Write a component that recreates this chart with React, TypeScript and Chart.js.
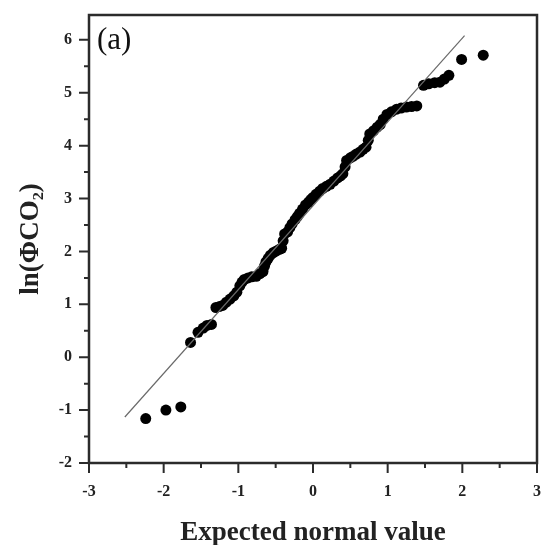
import React, { useEffect, useRef } from "react";
import { Chart, registerables } from "chart.js";

Chart.register(...registerables);

// Q-Q plot points (expected normal value, ln(ΦCO2))
const qqX = [
  -2.24, -1.97, -1.77, -1.64, -1.54, -1.47, -1.42, -1.36, -1.3, -1.25, -1.21, -1.16, -1.11,
  -1.06, -1.02, -0.98, -0.95, -0.92, -0.87, -0.82, -0.76, -0.71, -0.67, -0.65, -0.63, -0.6,
  -0.57, -0.53, -0.49, -0.45, -0.42, -0.4, -0.38, -0.34, -0.31, -0.28, -0.24, -0.21, -0.18,
  -0.14, -0.1, -0.06, -0.03, 0.0, 0.04, 0.09, 0.13, 0.18, 0.23, 0.28, 0.33, 0.37, 0.4, 0.43,
  0.45, 0.5, 0.54, 0.58, 0.63, 0.67, 0.71, 0.74, 0.76, 0.81, 0.86, 0.9, 0.94, 0.99, 1.05,
  1.12, 1.18, 1.25, 1.32, 1.39, 1.48, 1.55, 1.63, 1.7, 1.76, 1.82, 1.99, 2.28,
];
const qqY = [
  -1.16, -1.0, -0.94, 0.28, 0.47, 0.55, 0.6, 0.62, 0.94, 0.96, 0.98, 1.04, 1.1,
  1.16, 1.23, 1.35, 1.42, 1.47, 1.5, 1.52, 1.53, 1.58, 1.62, 1.72, 1.8, 1.87,
  1.93, 1.98, 2.01, 2.04, 2.06, 2.2, 2.33, 2.37, 2.45, 2.52, 2.6, 2.66, 2.72,
  2.8, 2.88, 2.93, 2.98, 3.02, 3.08, 3.14, 3.19, 3.23, 3.27, 3.33, 3.39, 3.43, 3.47, 3.6,
  3.72, 3.77, 3.8, 3.84, 3.88, 3.93, 3.97, 4.1, 4.22, 4.28, 4.35, 4.4, 4.5, 4.59, 4.64,
  4.69, 4.71, 4.73, 4.74, 4.75, 5.14, 5.17, 5.19, 5.2, 5.26, 5.33, 5.63, 5.71,
];

// Reference (normal) line end points
const fitX = [-2.52, 2.03];
const fitY = [-1.13, 6.08];

// Axis ticks
const xMajorTicks = [-3, -2, -1, 0, 1, 2, 3];
const yMajorTicks = [-2, -1, 0, 1, 2, 3, 4, 5, 6];
const xMinorTicks = [-2.5, -1.5, -0.5, 0.5, 1.5, 2.5];
const yMinorTicks = [-1.5, -0.5, 0.5, 1.5, 2.5, 3.5, 4.5, 5.5];

const xTitle = "Expected normal value";
const yTitle = "ln(ΦCO₂)";
const panelLabel = "(a)";

const AXIS_COLOR = "#2b2b2b";
const SERIF = "'Liberation Serif', 'Times New Roman', serif";

const framePlugin = {
  id: "frame",
  afterDraw(chart: any) {
    const { ctx, chartArea } = chart;
    const xs = chart.scales.x;
    const ys = chart.scales.y;
    ctx.save();
    ctx.strokeStyle = AXIS_COLOR;
    ctx.lineWidth = 2.5;
    ctx.strokeRect(chartArea.left, chartArea.top, chartArea.right - chartArea.left, chartArea.bottom - chartArea.top);
    ctx.lineWidth = 2;
    ctx.beginPath();
    for (const v of xMajorTicks) {
      const px = xs.getPixelForValue(v);
      ctx.moveTo(px, chartArea.bottom);
      ctx.lineTo(px, chartArea.bottom + 10);
    }
    for (const v of xMinorTicks) {
      const px = xs.getPixelForValue(v);
      ctx.moveTo(px, chartArea.bottom);
      ctx.lineTo(px, chartArea.bottom + 5);
    }
    for (const v of yMajorTicks) {
      const py = ys.getPixelForValue(v);
      ctx.moveTo(chartArea.left, py);
      ctx.lineTo(chartArea.left - 10, py);
    }
    for (const v of yMinorTicks) {
      const py = ys.getPixelForValue(v);
      ctx.moveTo(chartArea.left, py);
      ctx.lineTo(chartArea.left - 5, py);
    }
    ctx.stroke();
    ctx.fillStyle = "#111";
    ctx.font = `31px ${SERIF}`;
    ctx.textBaseline = "alphabetic";
    ctx.textAlign = "left";
    ctx.fillText(panelLabel, chartArea.left + 8, chartArea.top + 34);
    ctx.restore();
  },
};

export default function App() {
  const ref = useRef<HTMLCanvasElement | null>(null);
  useEffect(() => {
    if (!ref.current) return;
    const chart = new Chart(ref.current, {
      type: "scatter",
      data: {
        datasets: [
          {
            type: "line",
            data: fitX.map((x, i) => ({ x, y: fitY[i] })),
            borderColor: "#6a6a6a",
            borderWidth: 1.2,
            pointRadius: 0,
            fill: false,
          } as any,
          {
            type: "scatter",
            data: qqX.map((x, i) => ({ x, y: qqY[i] })),
            backgroundColor: "#000",
            borderColor: "#000",
            pointRadius: 5.5,
            pointBorderWidth: 0,
          },
        ],
      },
      options: {
        responsive: false,
        animation: false,
        layout: { padding: { top: 15, right: 9, left: 0, bottom: 0 } },
        plugins: { legend: { display: false }, tooltip: { enabled: false } },
        scales: {
          x: {
            type: "linear",
            min: -3,
            max: 3,
            grid: { display: false },
            border: { display: false },
            afterBuildTicks: (s: any) => {
              s.ticks = xMajorTicks.map((v) => ({ value: v }));
            },
            afterFit: (s: any) => {
              s.height = 82;
              s.paddingLeft = 0;
              s.paddingRight = 0;
            },
            ticks: {
              padding: 11,
              color: "#222",
              font: { family: SERIF, size: 16, weight: "bold" },
              callback: (v: any) => String(v),
            },
            title: {
              display: true,
              text: xTitle,
              color: "#222",
              font: { family: SERIF, size: 27, weight: "bold", lineHeight: 0.9 },
              padding: { top: 0, bottom: 0 },
            },
          },
          y: {
            type: "linear",
            min: -2,
            max: 6.47,
            grid: { display: false },
            border: { display: false },
            afterBuildTicks: (s: any) => {
              s.ticks = yMajorTicks.map((v) => ({ value: v }));
            },
            afterFit: (s: any) => {
              s.width = 89;
              s.paddingTop = 0;
              s.paddingBottom = 0;
            },
            ticks: {
              padding: 9,
              color: "#222",
              font: { family: SERIF, size: 16, weight: "bold" },
              callback: (v: any) => String(v),
            },
            title: {
              display: true,
              text: yTitle,
              color: "#222",
              font: { family: SERIF, size: 27, weight: "bold", lineHeight: 1.0 },
              padding: { top: 18, bottom: 0 },
            },
          },
        },
      } as any,
      plugins: [framePlugin],
    });
    return () => chart.destroy();
  }, []);
  return (
    <div style={{ position: "absolute", left: 0, top: 0, width: 546, height: 545, background: "#fff" }}>
      <canvas ref={ref} width={546} height={545} style={{ width: 546, height: 545, display: "block" }} />
    </div>
  );
}
